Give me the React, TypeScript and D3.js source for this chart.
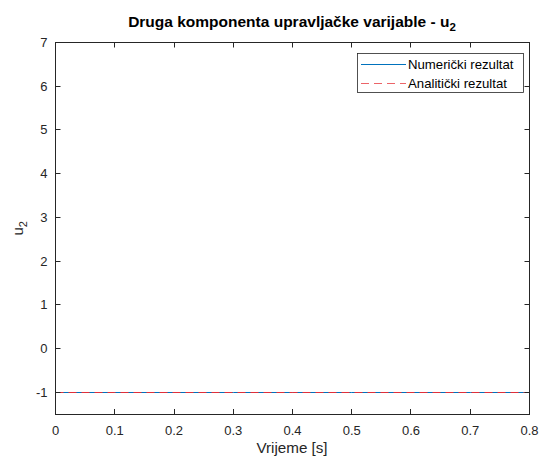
import React from "react";
import * as d3 from "d3";

const timeValues = [0, 0.1, 0.2, 0.3, 0.4, 0.5, 0.6, 0.7, 0.8];
const numericU2 = [-1, -1, -1, -1, -1, -1, -1, -1, -1];
const analyticU2 = [-1, -1, -1, -1, -1, -1, -1, -1, -1];
const xTicks = [0, 0.1, 0.2, 0.3, 0.4, 0.5, 0.6, 0.7, 0.8];
const yTicks = [-1, 0, 1, 2, 3, 4, 5, 6, 7];
const legendLabels = ["Numerički rezultat", "Analitički rezultat"];

const W = 539;
const H = 457;
const left = 55.5;
const right = 529.5;
const top = 42.5;
const bottom = 414;
const axisColor = "#262626";
const font = "'Liberation Sans', Arial, Helvetica, sans-serif";

export default function App() {
  const x = d3.scaleLinear().domain([0, 0.8]).range([left, right]);
  const y = d3.scaleLinear().domain([-1.5, 7]).range([bottom, top]);
  const line = d3
    .line<number>()
    .x((_, i) => x(timeValues[i]))
    .y((d) => Math.floor(y(d)) + 0.5);
  const tl = 5;
  return (
    <svg
      width={W}
      height={H}
      style={{ position: "absolute", left: 0, top: 0, background: "#fff" }}
      fontFamily={font}
    >
      <rect x={0} y={0} width={W} height={H} fill="#fff" />
      <path d={line(numericU2) || ""} fill="none" stroke="#0072BD" strokeWidth={1} />
      <path
        d={line(analyticU2) || ""}
        fill="none"
        stroke="#e0303a"
        strokeWidth={1}
        strokeDasharray="8,5"
      />
      <rect
        x={left}
        y={top}
        width={right - left}
        height={Math.floor(bottom) + 0.5 - top}
        fill="none"
        stroke={axisColor}
        strokeWidth={1}
      />
      {xTicks.map((t) => {
        const xp = Math.round(x(t) - 0.5) + 0.5;
        return (
          <g key={"x" + t}>
            <line x1={xp} x2={xp} y1={bottom} y2={bottom - tl} stroke={axisColor} />
            <line x1={xp} x2={xp} y1={top} y2={top + tl} stroke={axisColor} />
            <text
              x={x(t)}
              y={bottom + 21}
              textAnchor="middle"
              fontSize={13}
              fill={axisColor}
            >
              {t === 0 ? "0" : String(t)}
            </text>
          </g>
        );
      })}
      {yTicks.map((t) => {
        const yp = Math.floor(y(t)) + 0.5;
        return (
          <g key={"y" + t}>
            <line x1={left} x2={left + tl} y1={yp} y2={yp} stroke={axisColor} />
            <line x1={right} x2={right - tl} y1={yp} y2={yp} stroke={axisColor} />
            <text
              x={left - 8}
              y={y(t) + 4.5}
              textAnchor="end"
              fontSize={13}
              fill={axisColor}
            >
              {String(t)}
            </text>
          </g>
        );
      })}
      <text x={292} y={27} textAnchor="middle" fontSize={15.5} fontWeight="bold" fill="#000">
        Druga komponenta upravljačke varijable - u
        <tspan fontSize={11.5} dy={4}>2</tspan>
      </text>
      <text x={292} y={453} textAnchor="middle" fontSize={15.2} fill={axisColor}>
        Vrijeme [s]
      </text>
      <text
        transform={`translate(23, ${(top + bottom) / 2}) rotate(-90)`}
        textAnchor="middle"
        fontSize={15}
        fill={axisColor}
      >
        u<tspan fontSize={11} dy={4}>2</tspan>
      </text>
      <rect x={357.5} y={53.5} width={166} height={39} fill="#fff" stroke={axisColor} strokeWidth={0.8} />
      <line x1={361} x2={406} y1={64.5} y2={64.5} stroke="#0072BD" strokeWidth={1} />
      <line
        x1={361}
        x2={406}
        y1={83.5}
        y2={83.5}
        stroke="#ec6468"
        strokeWidth={1}
        strokeDasharray="8,5"
      />
      <text x={408} y={69} fontSize={13.2} fill="#000">
        {legendLabels[0]}
      </text>
      <text x={408} y={88} fontSize={13.2} fill="#000">
        {legendLabels[1]}
      </text>
    </svg>
  );
}
